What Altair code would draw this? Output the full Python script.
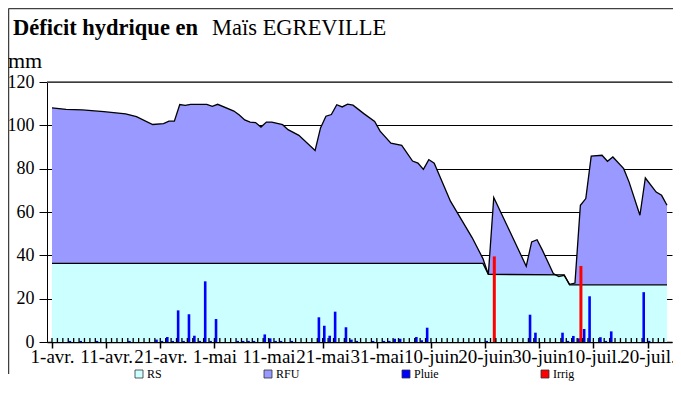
import json
import altair as alt
import pandas as pd

# ---------------- data ----------------
START = "2011-04-01"
FONT = "Liberation Serif"

# RFU curve (water stock, mm) at break-point dates
curve_dates = ["2011-04-01", "2011-04-03", "2011-04-06", "2011-04-10", "2011-04-14", "2011-04-16",
               "2011-04-19", "2011-04-21", "2011-04-22", "2011-04-23", "2011-04-24", "2011-04-25",
               "2011-04-26", "2011-04-29", "2011-04-30", "2011-05-01", "2011-05-04", "2011-05-05",
               "2011-05-06", "2011-05-07", "2011-05-08", "2011-05-09", "2011-05-10", "2011-05-11",
               "2011-05-13", "2011-05-14", "2011-05-16", "2011-05-19", "2011-05-20", "2011-05-21",
               "2011-05-22", "2011-05-23", "2011-05-24", "2011-05-25", "2011-05-26", "2011-05-28",
               "2011-05-30", "2011-05-31", "2011-06-02", "2011-06-04", "2011-06-06", "2011-06-07",
               "2011-06-08", "2011-06-09", "2011-06-10", "2011-06-13", "2011-06-17", "2011-06-19",
               "2011-06-20", "2011-06-21", "2011-06-27", "2011-06-28", "2011-06-29", "2011-06-30",
               "2011-07-02", "2011-07-03", "2011-07-04", "2011-07-05", "2011-07-06", "2011-07-07",
               "2011-07-08", "2011-07-09", "2011-07-11", "2011-07-12", "2011-07-13", "2011-07-15",
               "2011-07-16", "2011-07-18", "2011-07-19", "2011-07-21", "2011-07-22", "2011-07-23"]
curve_values = [108.1, 107.4, 107.1, 106.3, 105.3, 104.0,
                100.4, 100.8, 101.9, 101.9, 109.6, 109.2,
                109.7, 109.7, 108.8, 109.7, 106.6, 104.8,
                102.5, 101.5, 101.3, 99.2, 101.5, 101.5,
                100.3, 98.0, 95.4, 88.4, 98.8, 104.2,
                105.0, 109.5, 108.5, 109.8, 109.3, 105.4,
                101.8, 97.3, 91.8, 90.8, 83.5, 82.6,
                79.7, 84.2, 82.5, 65.0, 48.2, 38.5,
                31.2, 66.7, 35.0, 46.2, 47.2, 42.3,
                31.6, 30.2, 30.8, 26.6, 27.2, 63.1,
                66.2, 85.8, 86.2, 83.4, 85.4, 80.0,
                73.8, 58.5, 75.7, 69.2, 67.7, 63.1]

# RS (reserve de survie) level
rs_dates = ["2011-04-01", "2011-06-19", "2011-06-20", "2011-07-04", "2011-07-05", "2011-07-23"]
rs_values = [36.3, 36.3, 31.2, 31.0, 26.4, 26.4]

# Rain (Pluie) bars
rain_dates = ["2011-04-04", "2011-04-06", "2011-04-09", "2011-04-15", "2011-04-20", "2011-04-21",
              "2011-04-22", "2011-04-23", "2011-04-24", "2011-04-25", "2011-04-26", "2011-04-27",
              "2011-04-28", "2011-04-29", "2011-04-30", "2011-05-01", "2011-05-05", "2011-05-06",
              "2011-05-07", "2011-05-08", "2011-05-10", "2011-05-11", "2011-05-12", "2011-05-13",
              "2011-05-15", "2011-05-20", "2011-05-21", "2011-05-22", "2011-05-23", "2011-05-25",
              "2011-05-26", "2011-05-27", "2011-05-30", "2011-06-01", "2011-06-02", "2011-06-03",
              "2011-06-04", "2011-06-07", "2011-06-08", "2011-06-09", "2011-06-20", "2011-06-28",
              "2011-06-29", "2011-07-04", "2011-07-05", "2011-07-06", "2011-07-07", "2011-07-08",
              "2011-07-09", "2011-07-11", "2011-07-12", "2011-07-13", "2011-07-19", "2011-07-20"]
rain_values = [0.5, 0.5, 0.5, 0.5, 1.1, 0.5,
               2.3, 0.5, 14.6, 0.5, 12.8, 2.9,
               0.5, 28.0, 0.5, 10.6, 0.5, 0.5,
               0.5, 0.5, 3.5, 1.7, 0.5, 0.5,
               0.5, 11.4, 7.5, 2.9, 14.0, 6.8,
               1.1, 0.5, 0.5, 0.5, 0.5, 1.5,
               1.5, 2.3, 0.8, 6.6, 0.5, 12.6,
               4.3, 4.3, 0.5, 2.8, 1.7, 6.0,
               21.1, 2.2, 0.5, 4.9, 23.0, 0.5]

# Irrigation bars
irrig_dates = ["2011-06-21", "2011-07-07"]
irrig_values = [39.5, 35.1]

series_names = ["RS", "RFU", "Pluie", "Irrig"]
series_colors = ["#CCFFFF", "#9999FF", "#0000FF", "#FF0000"]

x_tick_labels = ["1-avr.", "11-avr.", "21-avr.", "1-mai", "11-mai", "21-mai", "31-mai",
                 "10-juin", "20-juin", "30-juin", "10-juil.", "20-juil."]
y_ticks = [0, 20, 40, 60, 80, 100, 120]

# ---------------- build tables ----------------
t0 = pd.Timestamp(START)


def frame(dates, values, name, shift):
    d = (pd.to_datetime(dates) - t0).days
    df = pd.DataFrame({"date": dates, "day": d, "val": values, "serie": name})
    df["xpos"] = [0.0 if v == 0 else v + shift for v in df["day"]]
    return df


curve_df = frame(curve_dates, curve_values, "RFU", 0.6)
rs_df = frame(rs_dates, rs_values, "RS", 0.6)
rain_df = frame(rain_dates, rain_values, "Pluie", 0.3)
irrig_df = frame(irrig_dates, irrig_values, "Irrig", 0.7)

last_day = int(curve_df["day"].max())
XMAX = last_day + 0.6
W, H = 625, 260

label_expr = json.dumps(x_tick_labels) + "[round(datum.value / 10)]"

x_enc = alt.X("xpos:Q",
              scale=alt.Scale(domain=[0, XMAX], nice=False, zero=False),
              axis=alt.Axis(values=list(range(0, last_day + 1, 10)), labelExpr=label_expr,
                            title=None, grid=False, tickSize=6, tickWidth=1.5,
                            domainWidth=1.5, labelPadding=-1, labelFontSize=19,
                            labelFont=FONT, labelOverlap=False, labelFlush=False))
y_scale = alt.Scale(domain=[0, 120], nice=False)
y_enc = alt.Y("val:Q", scale=y_scale, stack=None,
              axis=alt.Axis(values=y_ticks, title=None, grid=True, gridColor="black",
                            gridWidth=1, tickSize=8, labelPadding=5, labelFontSize=18,
                            labelFont=FONT))

color_enc = alt.Color("serie:N",
                      scale=alt.Scale(domain=series_names, range=series_colors),
                      legend=alt.Legend(title=None, orient="none", legendX=86, legendY=286,
                                        direction="horizontal", columns=4, gridAlign="each",
                                        columnPadding=100,
                                        symbolType="square", symbolSize=64,
                                        symbolStrokeColor="#333333", symbolStrokeWidth=0.8,
                                        labelFont=FONT, labelFontSize=12,
                                        labelOffset=2, symbolOpacity=1))

rfu_area = alt.Chart(curve_df).mark_area(opacity=1).encode(x=x_enc, y=y_enc, color=color_enc)
rs_area = alt.Chart(rs_df).mark_area(opacity=1).encode(
    x=x_enc, y=alt.Y("val:Q", scale=y_scale, stack=None), color=color_enc)
rs_line = alt.Chart(rs_df).mark_line(color="black", strokeWidth=1.3).encode(
    x=x_enc, y=alt.Y("val:Q", scale=y_scale))
curve_line = alt.Chart(curve_df).mark_line(color="black", strokeWidth=1.3).encode(
    x=x_enc, y=alt.Y("val:Q", scale=y_scale))
rain_bars = alt.Chart(rain_df).mark_bar(width=2.6, orient="vertical").encode(
    x=x_enc, y=alt.Y("val:Q", scale=y_scale, stack=None), color=color_enc)
irrig_bars = alt.Chart(irrig_df).mark_bar(width=3, orient="vertical").encode(
    x=x_enc, y=alt.Y("val:Q", scale=y_scale, stack=None), color=color_enc)

tick_df = pd.DataFrame({"xpos": list(range(0, last_day + 1))})
minor_ticks = alt.Chart(tick_df).mark_rule(color="black", strokeWidth=1.3).encode(
    x=x_enc, y=alt.value(H), y2=alt.value(H - 4))

top_df = pd.DataFrame({"val": [120]})
top_line = alt.Chart(top_df).mark_rule(color="#505050", strokeWidth=1.6).encode(
    y=alt.Y("val:Q", scale=y_scale))

frame_left = alt.Chart(pd.DataFrame({"k": [1]})).mark_rule(color="#404040", strokeWidth=1.5).encode(
    x=alt.value(-38.5), y=alt.value(-73.5), y2=alt.value(H + 32))
frame_top = alt.Chart(pd.DataFrame({"k": [1]})).mark_rule(color="#404040", strokeWidth=1.5).encode(
    x=alt.value(-38.5), x2=alt.value(W + 1), y=alt.value(-73.5))

title_bold = alt.Chart(pd.DataFrame({"t": ["Déficit hydrique en"]})).mark_text(
    align="left", baseline="alphabetic", font=FONT, fontSize=22.5,
    fontWeight="bold", color="black").encode(x=alt.value(-34), y=alt.value(-47), text="t:N")
title_norm = alt.Chart(pd.DataFrame({"t": ["Maïs EGREVILLE"]})).mark_text(
    align="left", baseline="alphabetic", font=FONT, fontSize=22.5,
    color="black").encode(x=alt.value(165), y=alt.value(-47), text="t:N")
unit = alt.Chart(pd.DataFrame({"t": ["mm"]})).mark_text(
    align="left", baseline="alphabetic", font=FONT, fontSize=22,
    color="black").encode(x=alt.value(-39), y=alt.value(-14), text="t:N")

chart = alt.layer(
    rfu_area, rs_area, rs_line, curve_line, rain_bars, irrig_bars, minor_ticks, top_line,
    frame_left, frame_top, title_bold, title_norm, unit
).properties(
    width=W, height=H,
    autosize=alt.AutoSizeParams(type="none"),
    padding={"left": 39, "top": 74, "right": 1, "bottom": 42},
).configure(font=FONT).configure_view(stroke=None).configure_axis(
    domainColor="black", tickColor="black", labelColor="black", labelFont=FONT
).configure_legend(labelFont=FONT)

chart.save("out.html", embed_options={"renderer": "svg", "actions": False})
